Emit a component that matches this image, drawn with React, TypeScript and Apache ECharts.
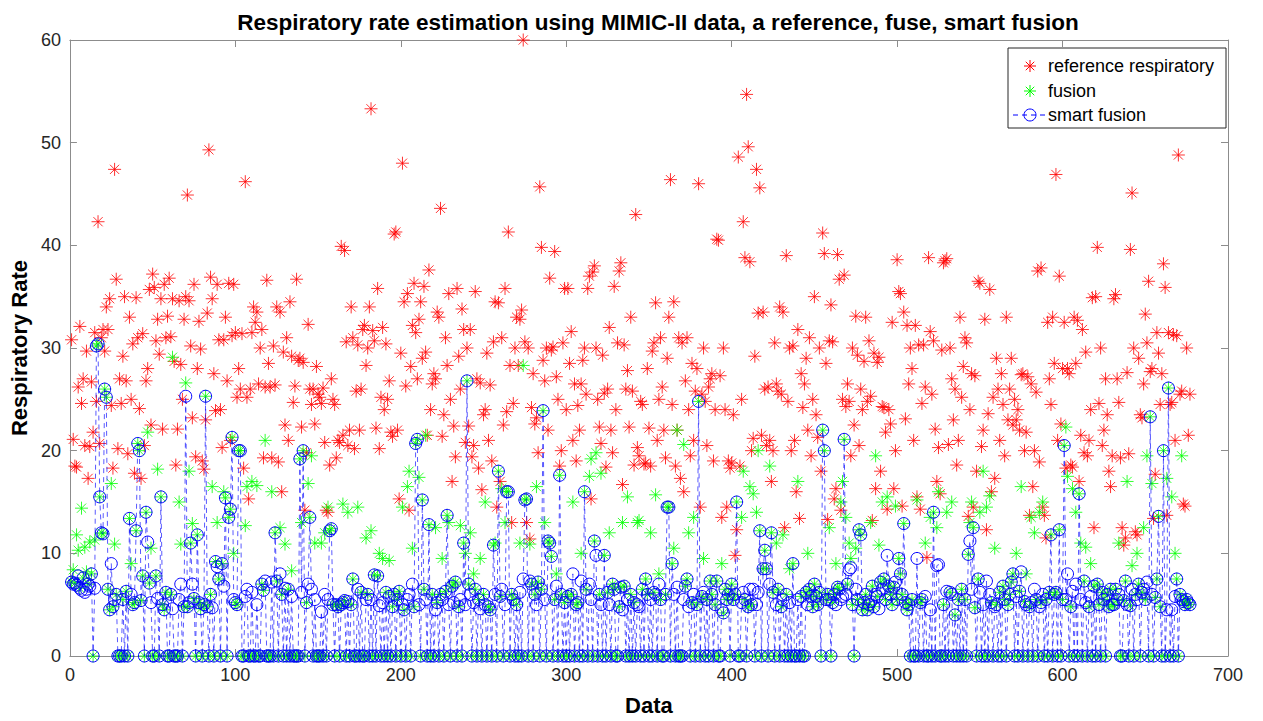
import React, { useEffect, useRef } from "react";
import * as echarts from "echarts";

// Reference respiratory rate (red asterisks)
const REFERENCE: number[] = [
  30.8, 21.1, 18.5, 18.4, 26.2, 32.1, 24.6, 27, 20.5, 29.7, 17.3, 20.4, 26.7, 21.8, 31.5, 24.8, 42.3, 20.7, 31, 31.8, 29.7, 34, 31.8, 34.8, 24.4, 18.3, 47.4, 36.7, 20.2, 27,
  24.6, 29.2, 35.0, 26.8, 19.7, 33.0, 25.0, 30.4, 17.8, 34.9, 31.0, 24.1, 17.3, 31.4, 20.5, 26.8, 28.0, 35.7, 22.5, 37.2, 35.9, 30.7, 32.8, 29.4, 34.8, 22.1, 36.2, 31.0, 33.1, 36.8,
  31.1, 34.8, 28.7, 18.6, 22.1, 34.6, 28.4, 25.0, 32.8, 35.0, 44.9, 34.6, 30.2, 23.2, 36.2, 19.4, 28.0, 32.6, 29.9, 19.0, 18.2, 23.0, 33.4, 49.3, 36.9, 34.8, 27.5, 23.9, 36.2, 30.8,
  24.0, 20.3, 30.8, 33.0, 26.8, 36.3, 21.0, 31.2, 36.2, 31.5, 25.2, 28.0, 26.0, 31.4, 18.3, 46.2, 25.2, 15.3, 26.0, 31.5, 34.0, 32.5, 33.5, 26.5, 30.0, 31.8, 19.3, 26.2, 36.6, 28.5,
  26.2, 19.3, 30.2, 26.4, 34.0, 18.9, 33.5, 16.0, 29.6, 22.5, 31.0, 21.0, 34.5, 29.2, 24.7, 26.3, 36.7, 28.8, 29.0, 22.3, 28.6, 14.2, 19.8, 32.3, 26.0, 24.5, 26.0, 22.6, 28.2, 25.5,
  25.2, 24.6, 26.1, 20.8, 14.2, 14.0, 18.6, 27.0, 25.0, 24.5, 19.3, 21.0, 20.8, 39.9, 21.5, 39.5, 30.6, 20.5, 22.0, 34.0, 31.0, 20.2, 25.8, 30.3, 22.0, 26.0, 31.8, 32.2, 28.3, 30.0,
  34.0, 53.3, 31.7, 30.7, 22.2, 35.8, 20.2, 25.2, 32.0, 24.0, 30.4, 25.0, 26.8, 21.8, 21.4, 41.1, 41.3, 22.0, 15.3, 29.5, 48.0, 34.5, 26.3, 35.3, 14.2, 28.2, 32.2, 36.3, 31.5, 27.0,
  32.8, 34.5, 29.0, 36.0, 29.6, 21.5, 37.6, 24.0, 26.5, 27.5, 27.0, 33.5, 33.0, 43.6, 21.4, 23.5, 31.0, 28.3, 35.3, 25.0, 17.0, 22.4, 19.4, 35.8, 29.2, 26.0, 33.8, 31.8, 20.8, 30.0,
  22.4, 31.8, 19.4, 20.5, 35.5, 27.0, 18.3, 26.6, 16.2, 23.5, 24.0, 29.5, 21.0, 26.4, 19.0, 30.6, 34.5, 14.5, 34.4, 17.0, 31.0, 22.5, 35.8, 23.8, 41.3, 28.3, 13.0, 24.6, 30.0, 33.0,
  28.3, 32.8, 33.7, 60.0, 30.6, 13.0, 30.0, 11.4, 24.2, 27.5, 22.6, 23.2, 19.8, 45.7, 39.8, 28.8, 26.8, 30.0, 22.0, 36.8, 29.8, 30.1, 39.4, 27.2, 25.0, 18.5, 20.0, 30.5, 35.8, 24.0,
  35.8, 28.5, 31.6, 21.0, 26.5, 19.0, 24.4, 22.0, 26.5, 28.8, 30.0, 25.5, 35.8, 37.0, 15.3, 37.4, 38.0, 30.0, 25.0, 22.3, 20.7, 29.3, 25.6, 18.4, 26.0, 32.0, 22.0, 19.8, 36.0, 24.0,
  30.5, 37.5, 38.3, 16.7, 30.3, 26.0, 27.8, 22.3, 33.0, 25.8, 18.6, 43.0, 20.3, 19.5, 24.8, 24.5, 18.7, 18.8, 28.0, 22.2, 18.5, 29.7, 30.5, 34.4, 21.0, 25.0, 31.0, 26.2, 22.0, 19.3,
  29.0, 33.0, 46.4, 24.5, 34.5, 18.5, 22.0, 31.0, 17.3, 30.5, 16.0, 26.8, 31.0, 24.0, 19.5, 28.5, 21.0, 25.8, 28.0, 46.0, 14.5, 25.5, 30.0, 24.8, 20.5, 26.2, 27.0, 27.5, 19.0, 24.0,
  40.6, 40.5, 27.3, 13.5, 30.0, 24.0, 14.5, 19.0, 18.3, 18.8, 23.5, 9.8, 12.3, 48.6, 18.5, 25.0, 42.3, 38.8, 54.7, 49.6, 38.4, 20.0, 21.2, 29.2, 47.4, 33.4, 45.6, 21.5, 33.5, 26.0,
  20.5, 26.2, 21.0, 17.0, 20.0, 30.5, 26.5, 25.8, 34.0, 25.5, 33.5, 12.5, 39.0, 24.8, 30.0, 20.0, 30.2, 21.0, 16.0, 31.8, 13.4, 27.5, 24.2, 26.5, 29.0, 22.0, 31.0, 19.5, 25.0, 35.0,
  23.5, 21.3, 30.0, 18.0, 41.2, 39.2, 28.5, 13.3, 30.7, 34.2, 30.6, 15.3, 16.3, 39.1, 36.7, 14.2, 25.0, 37.1, 24.3, 26.5, 24.8, 19.5, 30.0, 22.5, 33.1, 29.3, 20.5, 26.0, 24.0, 28.7,
  33.0, 24.8, 30.7, 25.3, 13.2, 29.5, 16.3, 28.6, 29.1, 18.0, 24.3, 24.2, 21.8, 14.3, 24.0, 22.6, 32.5, 16.3, 20.0, 38.6, 35.5, 35.3, 14.6, 33.5, 23.1, 32.2, 26.5, 30.0, 28.0, 21.0,
  32.2, 15.5, 30.3, 14.3, 24.6, 30.3, 26.2, 9.6, 38.8, 31.6, 25.5, 30.7, 22.1, 17.0, 20.3, 15.8, 29.8, 38.3, 38.5, 38.7, 20.6, 30.0, 27.0, 23.0, 26.0, 18.6, 21.0, 33.0, 25.2, 28.2,
  31.0, 30.5, 13.6, 24.0, 27.5, 14.5, 27.3, 18.0, 36.5, 36.3, 20.4, 22.0, 32.8, 12.3, 23.6, 35.7, 16.0, 25.2, 17.3, 29.0, 26.0, 21.0, 27.5, 24.5, 19.5, 33.0, 23.0, 26.0, 29.0, 22.5,
  25.0, 23.0, 24.0, 22.0, 27.4, 27.5, 20.0, 21.8, 27.2, 13.7, 26.5, 16.5, 20.0, 25.7, 37.5, 18.9, 37.8, 14.5, 13.7, 11.5, 32.5, 27.0, 24.5, 33.0, 28.5, 46.9, 21.0, 37.0, 22.6, 28.0,
  32.5, 18.3, 28.0, 27.5, 18.6, 18.4, 33.0, 28.5, 32.7, 17.0, 21.5, 31.8, 19.8, 29.6, 19.5, 21.0, 24.0, 34.9, 12.5, 35.0, 39.8, 24.6, 30.0, 20.5, 22.0, 27.0, 23.5, 18.0, 16.5, 19.5,
  34.8, 35.2, 27.0, 24.7, 19.3, 12.5, 10.8, 11.5, 27.6, 19.7, 39.6, 45.1, 30.0, 12.1, 11.8, 29.0, 23.5, 23.2, 26.5, 33.3, 30.5, 36.5, 27.7, 28.0, 13.4, 17.7, 31.5, 29.5, 24.5, 27.5,
  38.2, 35.9, 13.7, 31.5, 24.5, 24.7, 31.3, 21.0, 31.2, 48.8, 25.5, 25.8, 14.8, 14.6, 30.0, 21.5, 25.5,
];

// Fusion estimate (green asterisks)
const FUSION: number[] = [
  7.2, 8.4, 7.1, 11.8, 10.3, 6.6, 14.4, 7.6, 10.6, 8.2, 7.0, 11.1, 8.0, 0, 11.3, 30.2, 30.4, 15.5, 12.0, 11.9, 26.0, 25.2, 6.5, 4.5, 16.8, 4.8, 10.9, 6.0, 0, 0,
  0, 5.5, 0, 6.3, 0, 13.4, 9.0, 5.0, 5.2, 12.2, 20.7, 20.0, 5.4, 7.8, 0, 14.0, 21.8, 7.1, 10.5, 0, 0, 7.8, 18.2, 0, 15.5, 5.0, 4.5, 6.2, 0, 0,
  6.0, 29.1, 0, 0, 0, 15.0, 10.9, 0, 4.8, 26.6, 4.8, 18.0, 11.0, 12.9, 5.6, 0, 11.8, 5.2, 4.6, 0, 5.0, 25.3, 4.8, 0, 6.0, 16.5, 0, 9.2, 13.0, 7.5,
  0, 9.0, 16.0, 15.4, 0, 13.5, 14.3, 21.3, 10.0, 5.2, 5.0, 20.0, 20.0, 0, 0, 12.7, 16.5, 0, 0, 17.0, 0, 0, 16.6, 0, 0, 7.0, 6.4, 21.0, 0, 0,
  0, 16.0, 0, 12.0, 7.3, 0, 12.5, 6.0, 0, 10.9, 0, 6.5, 0, 8.3, 0, 0, 0, 0, 19.2, 13.0, 20.0, 0, 5.2, 16.8, 13.5, 19.5, 0, 11.0, 0, 0,
  0, 11.0, 0, 12.0, 0, 14.5, 12.2, 12.4, 5.0, 0, 5.0, 4.8, 0, 5.0, 14.8, 5.4, 0, 14.0, 0, 5.0, 7.5, 0, 0, 14.5, 0, 6.2, 0, 0, 11.5, 6.0,
  0, 12.2, 0, 7.9, 0, 7.8, 10.0, 0, 9.5, 0, 6.2, 0, 9.3, 0, 4.8, 6.0, 0, 5.5, 6.3, 0, 14.5, 4.5, 0, 16.5, 18.0, 0, 10.5, 4.8, 20.7, 21.1,
  17.4, 0, 15.2, 6.5, 21.5, 0, 12.8, 0, 6.0, 0, 12.5, 5.2, 0, 6.0, 9.5, 0, 6.3, 13.7, 13.0, 0, 6.8, 7.0, 7.2, 0, 4.8, 12.7, 0, 11.0, 10.0, 26.8,
  7.0, 12.0, 0, 8.0, 6.5, 0, 5.5, 9.5, 0, 6.0, 15.0, 0, 4.8, 4.5, 0, 10.8, 11.0, 0, 18.0, 5.8, 16.3, 0, 13.0, 16.0, 16.0, 0, 6.0, 5.5, 0, 5.0,
  0, 11.0, 0, 28.3, 15.2, 15.3, 0, 10.9, 7.0, 0, 6.0, 16.5, 7.2, 0, 6.5, 23.9, 13.0, 0, 11.2, 11.0, 9.7, 0, 5.5, 8.0, 0, 17.6, 6.0, 0, 5.2, 0,
  5.8, 0, 6.0, 15.0, 0, 5.0, 5.2, 0, 10.0, 0, 16.0, 6.5, 0, 17.5, 19.2, 0, 11.2, 19.8, 0, 6.0, 17.8, 0, 9.8, 0, 6.2, 12.0, 0, 7.0, 6.5, 0,
  0, 4.8, 6.7, 13.0, 6.8, 0, 15.5, 0, 6.0, 0, 5.2, 0, 13.0, 13.2, 0, 6.5, 0, 7.5, 6.0, 0, 12.0, 0, 6.2, 15.7, 0, 8.0, 5.5, 0, 0, 6.0,
  14.5, 14.5, 0, 9.0, 10.5, 0, 22.0, 0, 0, 0, 20.6, 6.8, 7.5, 12.0, 0, 5.2, 13.5, 0, 5.0, 24.8, 0, 5.8, 9.5, 0, 5.5, 0, 7.3, 6.0, 0, 5.0,
  7.3, 0, 0, 9.0, 4.2, 6.5, 5.5, 6.0, 0, 7.0, 5.5, 6.0, 15.0, 0, 0, 13.5, 18.0, 5.5, 0, 4.8, 16.5, 5.0, 15.8, 0, 14.0, 20.0, 12.2, 0, 8.5, 10.3,
  8.5, 0, 18.5, 12.0, 6.2, 0, 11.0, 6.5, 0, 4.8, 11.8, 0, 6.0, 0, 8.5, 0, 9.0, 0, 0, 17.0, 0, 5.8, 0, 0, 6.2, 10.0, 6.5, 5.8, 4.8, 7.0,
  5.8, 5.0, 6.2, 0, 22.0, 20.0, 5.5, 6.0, 12.5, 0, 5.2, 6.0, 9.0, 6.7, 6.5, 15.0, 17.0, 21.1, 13.5, 7.0, 11.0, 9.5, 5.0, 0, 10.5, 5.5, 12.3, 11.8, 4.5, 5.2,
  6.0, 4.5, 5.0, 13.0, 6.8, 4.8, 19.5, 5.8, 10.8, 7.2, 15.0, 7.5, 5.5, 15.5, 6.8, 6.0, 5.0, 6.7, 14.6, 5.5, 9.5, 8.0, 6.0, 12.9, 5.2, 4.5, 5.0, 0, 5.5, 0,
  0, 15.2, 0, 5.2, 5.5, 0, 11.0, 0, 0, 13.5, 0, 14.0, 0, 12.5, 16.0, 0, 0, 5.0, 0, 14.0, 0, 6.2, 15.0, 0, 4.0, 0, 5.5, 0, 6.5, 0,
  5.5, 0, 9.9, 13.0, 15.0, 12.5, 4.7, 0, 7.5, 14.0, 0, 18.0, 0, 14.5, 0, 15.6, 5.2, 0, 10.5, 5.0, 0, 6.2, 0, 6.8, 5.5, 0, 5.0, 6.0, 7.2, 8.0,
  0, 10.0, 0, 6.3, 16.5, 0, 5.3, 8.0, 0, 4.8, 13.5, 0, 12.0, 5.5, 0, 14.0, 5.2, 15.0, 0, 5.5, 0, 6.2, 11.8, 0, 6.0, 6.2, 0, 12.3, 0, 5.5,
  20.5, 22.3, 17.5, 0, 4.8, 16.3, 0, 14.0, 0, 15.8, 11.0, 0, 7.3, 10.6, 0, 4.8, 9.0, 0, 6.8, 0, 7.0, 5.0, 0, 6.2, 5.5, 0, 6.0, 4.8, 6.5, 5.0,
  5.0, 6.5, 5.5, 11.0, 0, 0, 5.4, 7.3, 17.0, 0, 4.9, 8.8, 0, 6.0, 10.0, 7.0, 0, 6.2, 12.5, 5.5, 19.5, 0, 23.3, 16.8, 0, 5.7, 7.5, 13.6, 4.8, 0,
  20.0, 0, 17.3, 26.1, 0, 15.5, 0, 10.0, 7.5, 0, 6.0, 19.5, 5.3, 5.0, 5.5, 5.2, 5.0,
];

// Smart fusion estimate (blue circles, dashed line)
const SMART_FUSION: number[] = [
  7.2, 7.0, 7.1, 6.9, 7.8, 6.6, 6.4, 7.6, 6.2, 6.5, 7.0, 6.8, 8.0, 0, 6.6, 30.2, 30.4, 15.5, 12.0, 11.9, 26.0, 25.2, 6.5, 4.5, 9.0, 4.8, 5.5, 6.0, 0, 0,
  0, 5.5, 0, 6.3, 0, 13.4, 6.0, 5.0, 5.2, 12.2, 20.7, 20.0, 5.4, 7.8, 0, 14.0, 11.1, 7.1, 5.2, 0, 0, 7.8, 5.6, 0, 15.5, 5.0, 4.5, 6.2, 0, 0,
  6.0, 4.6, 0, 0, 0, 5.5, 7.0, 0, 4.8, 25.3, 4.8, 5.2, 11.0, 7.0, 5.6, 0, 11.8, 5.2, 4.6, 0, 5.0, 25.3, 4.8, 0, 6.0, 4.7, 0, 9.2, 8.7, 7.5,
  0, 9.0, 6.8, 15.4, 0, 13.5, 14.3, 21.3, 5.5, 5.2, 5.0, 20.0, 20.0, 0, 0, 5.8, 6.5, 0, 0, 6.2, 0, 0, 5.0, 0, 0, 7.0, 6.4, 7.3, 0, 0,
  0, 7.2, 0, 12.0, 7.3, 0, 8.0, 6.0, 0, 6.6, 0, 6.5, 0, 5.8, 0, 0, 0, 0, 19.2, 6.2, 20.0, 0, 5.2, 7.0, 13.5, 6.5, 0, 5.5, 0, 0,
  0, 4.3, 0, 6.0, 0, 5.5, 12.2, 12.4, 5.0, 0, 5.0, 4.8, 0, 5.0, 5.2, 5.4, 0, 5.3, 0, 5.0, 7.5, 0, 0, 6.5, 0, 6.2, 0, 0, 5.5, 6.0,
  0, 5.5, 0, 7.9, 0, 7.8, 4.9, 0, 5.2, 0, 6.2, 0, 5.8, 0, 4.8, 6.0, 0, 5.5, 6.3, 0, 5.0, 4.5, 0, 5.5, 6.0, 0, 7.0, 4.8, 20.7, 21.1,
  5.0, 0, 15.2, 6.5, 5.5, 0, 12.8, 0, 6.0, 0, 4.5, 5.2, 0, 6.0, 5.5, 0, 6.3, 13.7, 5.0, 0, 6.8, 5.2, 7.2, 0, 4.8, 5.5, 0, 11.0, 5.0, 26.8,
  7.0, 6.0, 0, 5.2, 6.5, 0, 5.5, 4.6, 0, 6.0, 5.0, 0, 4.8, 4.5, 0, 10.8, 6.0, 0, 18.0, 5.8, 6.5, 0, 5.0, 16.0, 16.0, 0, 6.0, 5.5, 0, 5.0,
  0, 6.2, 0, 7.5, 15.2, 15.3, 0, 7.3, 7.0, 0, 6.0, 5.0, 7.2, 0, 6.5, 23.9, 5.5, 0, 11.2, 11.0, 9.7, 0, 5.5, 6.8, 0, 17.6, 6.0, 0, 5.2, 0,
  5.8, 0, 6.0, 8.0, 0, 5.0, 5.2, 0, 7.3, 0, 16.0, 6.5, 0, 7.0, 5.5, 0, 11.2, 9.8, 0, 6.0, 5.0, 0, 9.8, 0, 6.2, 5.0, 0, 7.0, 6.5, 0,
  0, 4.8, 6.7, 4.5, 6.8, 0, 5.5, 0, 6.0, 0, 5.2, 0, 5.0, 4.8, 0, 6.5, 0, 7.5, 6.0, 0, 5.5, 0, 6.2, 6.0, 0, 7.0, 5.5, 0, 0, 6.0,
  14.5, 14.5, 0, 9.0, 6.0, 0, 6.7, 0, 0, 0, 5.5, 6.8, 7.5, 4.8, 0, 5.2, 6.0, 0, 5.0, 24.8, 0, 5.8, 6.2, 0, 5.5, 0, 7.3, 6.0, 0, 5.0,
  7.3, 0, 0, 4.5, 4.2, 6.5, 5.5, 6.0, 0, 7.0, 5.5, 6.0, 15.0, 0, 0, 5.2, 6.2, 5.5, 0, 4.8, 6.5, 5.0, 6.5, 0, 5.0, 6.2, 12.2, 0, 8.5, 10.3,
  8.5, 0, 7.0, 12.0, 6.2, 0, 5.0, 6.5, 0, 4.8, 5.5, 0, 6.0, 0, 5.2, 0, 9.0, 0, 0, 5.5, 0, 5.8, 0, 0, 6.2, 5.0, 6.5, 5.8, 4.8, 7.0,
  5.8, 5.0, 6.2, 0, 22.0, 20.0, 5.5, 6.0, 5.5, 0, 5.2, 6.0, 5.0, 6.7, 6.5, 5.5, 5.8, 21.1, 6.0, 7.0, 8.4, 8.6, 5.0, 0, 6.5, 5.5, 12.3, 11.8, 4.5, 5.2,
  6.0, 4.5, 5.0, 5.3, 6.8, 4.8, 6.0, 5.8, 4.6, 7.2, 6.5, 7.5, 5.5, 9.8, 6.8, 6.0, 5.0, 6.7, 7.2, 5.5, 9.5, 8.0, 6.0, 12.9, 5.2, 4.5, 5.0, 0, 5.5, 0,
  0, 9.5, 0, 5.2, 5.5, 0, 5.8, 0, 0, 4.5, 0, 14.0, 0, 8.8, 8.9, 0, 0, 5.0, 0, 6.3, 0, 6.2, 6.0, 0, 4.0, 0, 5.5, 0, 6.5, 0,
  5.5, 0, 9.9, 11.2, 6.5, 12.5, 4.7, 0, 7.5, 6.2, 0, 5.0, 0, 7.3, 0, 6.0, 5.2, 0, 4.8, 5.0, 0, 6.2, 0, 6.8, 5.5, 0, 5.0, 6.0, 7.2, 8.0,
  0, 5.8, 0, 6.3, 8.2, 0, 5.3, 5.0, 0, 4.8, 5.2, 0, 6.5, 5.5, 0, 4.8, 5.2, 6.0, 0, 5.5, 0, 6.2, 11.8, 0, 6.0, 6.2, 0, 12.3, 0, 5.5,
  20.5, 5.5, 8.0, 0, 4.8, 6.3, 0, 7.0, 0, 15.8, 5.5, 0, 7.3, 5.2, 0, 4.8, 5.8, 0, 6.8, 0, 7.0, 5.0, 0, 6.2, 5.5, 0, 6.0, 4.8, 6.5, 5.0,
  5.0, 6.5, 5.5, 6.0, 0, 0, 5.4, 7.3, 5.0, 0, 4.9, 6.5, 0, 6.0, 5.5, 7.0, 0, 6.2, 6.5, 5.5, 7.2, 0, 23.3, 6.0, 0, 5.7, 7.5, 13.6, 4.8, 0,
  20.0, 0, 4.5, 26.1, 0, 4.5, 0, 5.8, 7.5, 0, 6.0, 5.5, 5.3, 5.0, 5.5, 5.2, 5.0,
];

const X_TICKS = [0, 100, 200, 300, 400, 500, 600, 700];
const Y_TICKS = [0, 10, 20, 30, 40, 50, 60];

const TITLE = "Respiratory rate estimation using MIMIC-II data, a reference, fuse, smart fusion";
const X_NAME = "Data";
const Y_NAME = "Respiratory Rate";
const LEGEND_LABELS = ["reference respiratory", "fusion", "smart fusion"];

const RED = "#ff0000";
const GREEN = "#00ff00";
const BLUE = "#0000ff";
const FONT = "'Liberation Sans', Arial, Helvetica, sans-serif";
const AXIS_COLOR = "#262626";
const FRAME_COLOR = "#8c8c8c";

const ASTERISK =
  "path://M0,-10L0,10M-10,0L10,0M-7.07,-7.07L7.07,7.07M-7.07,7.07L7.07,-7.07";

function asteriskLines(cx: number, cy: number, r: number, color: string) {
  const d = r * 0.7071;
  const seg = (x1: number, y1: number, x2: number, y2: number) => ({
    type: "line",
    shape: { x1, y1, x2, y2 },
    style: { stroke: color, lineWidth: 1 },
  });
  return [
    seg(cx - r, cy, cx + r, cy),
    seg(cx, cy - r, cx, cy + r),
    seg(cx - d, cy - d, cx + d, cy + d),
    seg(cx - d, cy + d, cx + d, cy - d),
  ];
}

export default function App() {
  const ref = useRef<HTMLDivElement>(null);

  useEffect(() => {
    if (!ref.current) return;
    const chart = echarts.init(ref.current, undefined, { renderer: "svg" });

    const xMin = X_TICKS[0];
    const xMax = X_TICKS[X_TICKS.length - 1];
    const xInt = X_TICKS[1] - X_TICKS[0];
    const yMin = Y_TICKS[0];
    const yMax = Y_TICKS[Y_TICKS.length - 1];
    const yInt = Y_TICKS[1] - Y_TICKS[0];

    const toPairs = (arr: number[]) => arr.map((v, i) => [i + 1, v]);

    const baseAxis = {
      axisLine: { show: true, onZero: false, lineStyle: { color: FRAME_COLOR, width: 1 } },
      axisTick: { show: true, inside: true, length: 7, lineStyle: { color: FRAME_COLOR, width: 1 } },
      splitLine: { show: false },
    };

    const legendX = 1008;
    const legendY = 48;

    const option: any = {
      animation: false,
      backgroundColor: "#ffffff",
      title: {
        text: TITLE,
        left: 653,
        top: 6,
        textAlign: "center",
        textStyle: { fontFamily: FONT, fontWeight: "bold", fontSize: 22.5, color: "#000" },
      },
      grid: { left: 67, right: 35, top: 40, bottom: 63, containLabel: false },
      xAxis: [
        {
          ...baseAxis,
          type: "value",
          position: "bottom",
          min: xMin,
          max: xMax,
          interval: xInt,
          name: X_NAME,
          nameLocation: "middle",
          nameGap: 38,
          nameTextStyle: { fontFamily: FONT, fontWeight: "bold", fontSize: 22, color: "#000" },
          axisLabel: { fontFamily: FONT, fontSize: 18, color: AXIS_COLOR, margin: 10 },
        },
        {
          ...baseAxis,
          type: "value",
          position: "top",
          min: xMin,
          max: xMax,
          interval: xInt,
          axisLabel: { show: false },
        },
      ],
      yAxis: [
        {
          ...baseAxis,
          type: "value",
          position: "left",
          min: yMin,
          max: yMax,
          interval: yInt,
          name: Y_NAME,
          nameLocation: "middle",
          nameGap: 27,
          nameTextStyle: { fontFamily: FONT, fontWeight: "bold", fontSize: 22, color: "#000" },
          axisLabel: { fontFamily: FONT, fontSize: 18, color: AXIS_COLOR, margin: 9 },
        },
        {
          ...baseAxis,
          type: "value",
          position: "right",
          min: yMin,
          max: yMax,
          interval: yInt,
          axisLabel: { show: false },
        },
      ],
      series: [
        {
          name: LEGEND_LABELS[0],
          type: "scatter",
          data: toPairs(REFERENCE),
          symbol: ASTERISK,
          symbolSize: 13,
          itemStyle: { color: "transparent", borderColor: RED, borderWidth: 1 },
          z: 2,
        },
        {
          name: LEGEND_LABELS[1],
          type: "scatter",
          data: toPairs(FUSION),
          symbol: ASTERISK,
          symbolSize: 13,
          itemStyle: { color: "transparent", borderColor: GREEN, borderWidth: 1 },
          z: 3,
        },
        {
          name: LEGEND_LABELS[2],
          type: "line",
          data: toPairs(SMART_FUSION),
          symbol: "circle",
          symbolSize: 12,
          showSymbol: true,
          showAllSymbol: true,
          itemStyle: { color: "transparent", borderColor: BLUE, borderWidth: 1 },
          lineStyle: { color: BLUE, width: 1, type: [5, 4], opacity: 0.65 },
          z: 4,
        },
      ],
      graphic: [
        {
          type: "group",
          z: 100,
          children: [
            {
              type: "rect",
              shape: { x: legendX, y: legendY, width: 218, height: 80 },
              style: { fill: "#ffffff", stroke: AXIS_COLOR, lineWidth: 1 },
            },
            ...asteriskLines(legendX + 22, legendY + 18, 6, RED),
            {
              type: "text",
              style: {
                x: legendX + 40, y: legendY + 18, text: LEGEND_LABELS[0],
                font: `18px ${FONT}`, fill: "#000", verticalAlign: "middle", align: "left",
              },
            },
            ...asteriskLines(legendX + 22, legendY + 43, 6, GREEN),
            {
              type: "text",
              style: {
                x: legendX + 40, y: legendY + 43, text: LEGEND_LABELS[1],
                font: `18px ${FONT}`, fill: "#000", verticalAlign: "middle", align: "left",
              },
            },
            {
              type: "line",
              shape: { x1: legendX + 5, y1: legendY + 67, x2: legendX + 39, y2: legendY + 67 },
              style: { stroke: BLUE, lineWidth: 1, lineDash: [5, 4] },
            },
            {
              type: "circle",
              shape: { cx: legendX + 22, cy: legendY + 67, r: 6 },
              style: { fill: "transparent", stroke: BLUE, lineWidth: 1 },
            },
            {
              type: "text",
              style: {
                x: legendX + 40, y: legendY + 67, text: LEGEND_LABELS[2],
                font: `18px ${FONT}`, fill: "#000", verticalAlign: "middle", align: "left",
              },
            },
          ],
        },
      ],
    };

    chart.setOption(option);
    return () => chart.dispose();
  }, []);

  return (
    <div
      ref={ref}
      style={{ position: "fixed", left: 0, top: 0, width: 1263, height: 721, background: "#fff" }}
    />
  );
}
